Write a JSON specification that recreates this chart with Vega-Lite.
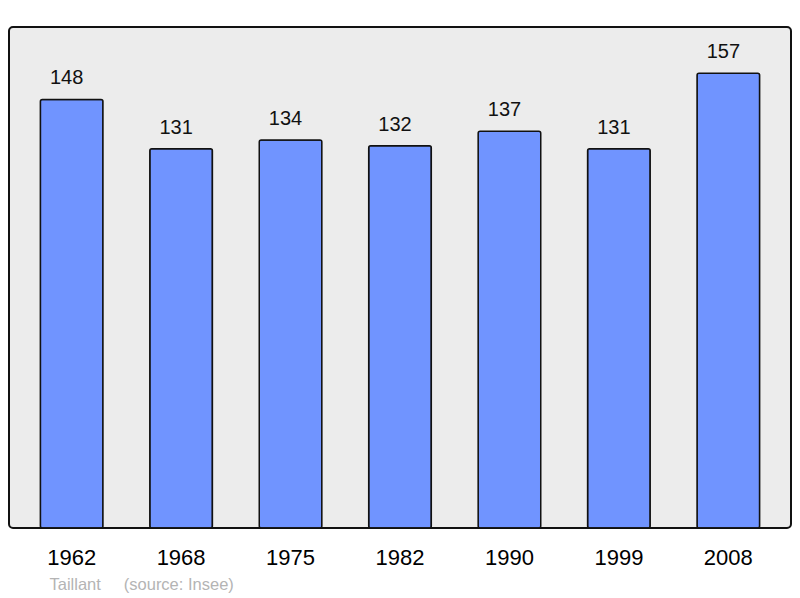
{
  "$schema": "https://vega.github.io/schema/vega-lite/v6.json",
  "autosize": "none",
  "width": 782,
  "height": 501,
  "padding": {"left": 9, "top": 27, "right": 9, "bottom": 70},
  "background": "white",
  "config": {
    "font": "Liberation Sans",
    "view": {"fill": "#ececec", "stroke": "#111111", "strokeWidth": 2, "cornerRadius": 4}
  },
  "data": {
    "values": [
      {"year": "1962", "pop": 148},
      {"year": "1968", "pop": 131},
      {"year": "1975", "pop": 134},
      {"year": "1982", "pop": 132},
      {"year": "1990", "pop": 137},
      {"year": "1999", "pop": 131},
      {"year": "2008", "pop": 157}
    ]
  },
  "encoding": {
    "x": {
      "field": "year",
      "type": "nominal",
      "sort": null,
      "scale": {"paddingInner": 0.428, "paddingOuter": 0.2865},
      "axis": {
        "title": "Taillant\u00a0\u00a0\u00a0\u00a0 (source: Insee)",
        "titleFont": "Liberation Sans",
        "titleFontSize": 16.5,
        "titleFontWeight": "normal",
        "titleColor": "#b4b4b4",
        "titleAnchor": "start",
        "titleAlign": "left",
        "titleBaseline": "alphabetic",
        "titleX": 40,
        "titleY": 61,
        "labelAngle": 0,
        "labelFontSize": 22,
        "labelColor": "#000000",
        "labelBaseline": "alphabetic",
        "labelPadding": 36,
        "ticks": false,
        "tickSize": 0,
        "domain": false,
        "grid": false
      }
    },
    "y": {
      "field": "pop",
      "type": "quantitative",
      "scale": {"domain": [0, 173], "nice": false, "zero": true},
      "axis": null
    }
  },
  "layer": [
    {
      "mark": {"type": "bar", "fill": "#7094ff", "stroke": "#111111", "strokeWidth": 1.5, "cornerRadius": 2}
    },
    {
      "mark": {"type": "text", "fontSize": 20, "color": "#111111", "baseline": "alphabetic", "align": "center", "dy": -15, "dx": -5},
      "encoding": {"text": {"field": "pop", "type": "quantitative"}}
    }
  ]
}
